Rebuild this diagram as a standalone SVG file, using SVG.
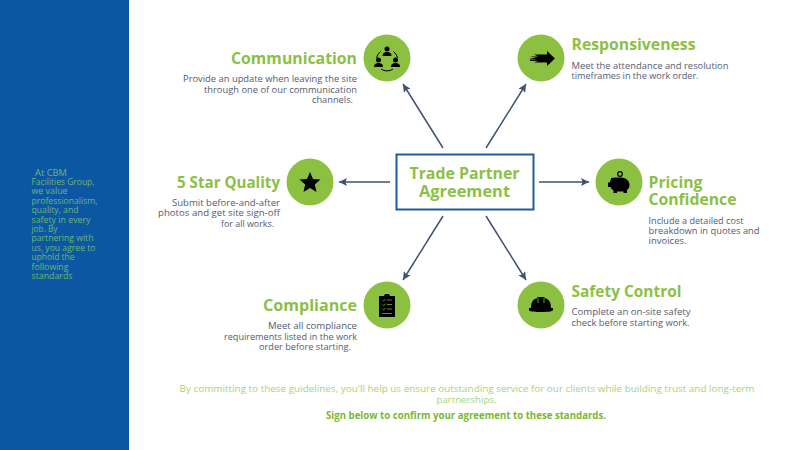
<svg xmlns="http://www.w3.org/2000/svg" width="800" height="450" viewBox="0 0 800 450">
<defs>
<marker id="ah" viewBox="0 0 10 10" refX="10" refY="5" markerWidth="10" markerHeight="8" markerUnits="userSpaceOnUse" orient="auto"><path d="M0 0L10 5L0 10L2 5Z" fill="#3f5270"/></marker>
</defs>
<style>
text{font-family:"Open Sans","Noto Sans","Liberation Sans",sans-serif}
.t{font-size:16px;font-weight:700;fill:#8cc045}
.d{font-size:8.800px;fill:#555b6e}
.s{font-size:8.300px;fill:#6fb870}
.e{text-anchor:end}
.m{text-anchor:middle}
.c{fill:#8cc040}
.i{fill:#000}
.l{fill:none;stroke:#000;stroke-width:1}
</style>
<rect x="0" y="0" width="800" height="450" fill="#fff"/>
<rect x="0" y="0" width="129" height="450" fill="#0b57a4"/>
<g id="intro">
<text class="s" x="35" y="175.500" textLength="32" lengthAdjust="spacingAndGlyphs">At CBM</text>
<text class="s" x="31.500" y="184.900" textLength="63" lengthAdjust="spacingAndGlyphs">Facilities Group,</text>
<text class="s" x="31.500" y="194.300" textLength="36" lengthAdjust="spacingAndGlyphs">we value</text>
<text class="s" x="31.500" y="203.700" textLength="66" lengthAdjust="spacingAndGlyphs">professionalism,</text>
<text class="s" x="31.500" y="213.100" textLength="47" lengthAdjust="spacingAndGlyphs">quality, and</text>
<text class="s" x="31.500" y="222.500" textLength="59" lengthAdjust="spacingAndGlyphs">safety in every</text>
<text class="s" x="31.500" y="231.900" textLength="26" lengthAdjust="spacingAndGlyphs">job. By</text>
<text class="s" x="31.500" y="241.300" textLength="62" lengthAdjust="spacingAndGlyphs">partnering with</text>
<text class="s" x="31.500" y="250.700" textLength="64" lengthAdjust="spacingAndGlyphs">us, you agree to</text>
<text class="s" x="31.500" y="260.100" textLength="43" lengthAdjust="spacingAndGlyphs">uphold the</text>
<text class="s" x="31.500" y="269.500" textLength="37" lengthAdjust="spacingAndGlyphs">following</text>
<text class="s" x="31.500" y="278.900" textLength="41" lengthAdjust="spacingAndGlyphs">standards</text>
</g>
<g id="connectors" fill="none" stroke="#3f5270" stroke-width="1.500">
<path d="M443 148L403 84" marker-end="url(#ah)"/>
<path d="M486 148L526 84" marker-end="url(#ah)"/>
<path d="M390 182H339" marker-end="url(#ah)"/>
<path d="M539 182H589" marker-end="url(#ah)"/>
<path d="M443 216L403 280" marker-end="url(#ah)"/>
<path d="M486 216L526 280" marker-end="url(#ah)"/>
</g>
<g id="center">
<rect x="396.500" y="154.500" width="137" height="55" fill="#fff" stroke="#1f5c99" stroke-width="2"/>
<text class="t m" x="464.500" y="178.500" textLength="110" lengthAdjust="spacingAndGlyphs">Trade Partner</text>
<text class="t m" x="464.500" y="196.500" textLength="91" lengthAdjust="spacingAndGlyphs">Agreement</text>
</g>
<g id="communication">
<circle class="c" cx="387" cy="58" r="23.500"/>
<circle class="i" cx="387" cy="49" r="2.500"/><path class="i" d="M382.500 56c0-3 1.500-4 4.500-4s4.500 1 4.500 4z"/>
<circle class="i" cx="378.500" cy="60" r="2.500"/><path class="i" d="M374 67c0-3 1.500-4 4.500-4s4.500 1 4.500 4z"/>
<circle class="i" cx="395.500" cy="60" r="2.500"/><path class="i" d="M391 67c0-3 1.500-4 4.500-4s4.500 1 4.500 4z"/>
<path class="l" d="M380.500 51.500A11 11 0 0 0 376.500 58M393.500 51.500A11 11 0 0 1 397.500 58M381 69A11 11 0 0 0 393 69"/>
<text class="t e" x="357" y="64" textLength="126" lengthAdjust="spacingAndGlyphs">Communication</text>
<text class="d e" x="357" y="82" textLength="174" lengthAdjust="spacingAndGlyphs">Provide an update when leaving the site</text>
<text class="d e" x="357" y="92.500" textLength="153" lengthAdjust="spacingAndGlyphs">through one of our communication</text>
<text class="d e" x="353" y="103" textLength="41" lengthAdjust="spacingAndGlyphs">channels.</text>
</g>
<g id="responsiveness">
<circle class="c" cx="541" cy="58" r="23.500"/>
<path class="i" d="M547 51L555 58.500L547 66V62.500H534L538 61H530V59.500H537L528.500 58H537L530 56.500H538L534 54.500H547Z"/>
<text class="t" x="571.500" y="50" textLength="124" lengthAdjust="spacingAndGlyphs">Responsiveness</text>
<text class="d" x="571.500" y="68.500" textLength="157" lengthAdjust="spacingAndGlyphs">Meet the attendance and resolution</text>
<text class="d" x="571.500" y="78.500" textLength="127" lengthAdjust="spacingAndGlyphs">timeframes in the work order.</text>
</g>
<g id="quality">
<circle class="c" cx="310" cy="182" r="23.500"/>
<path class="i" d="M310 172L313 179L320.500 179.600L314.800 184.500L316.500 192L310 188L303.500 192L305.200 184.500L299.500 179.600L307 179Z"/>
<text class="t e" x="280" y="188" textLength="103" lengthAdjust="spacingAndGlyphs">5 Star Quality</text>
<text class="d e" x="280" y="206" textLength="108" lengthAdjust="spacingAndGlyphs">Submit before-and-after</text>
<text class="d e" x="280" y="216" textLength="122" lengthAdjust="spacingAndGlyphs">photos and get site sign-off</text>
<text class="d e" x="274" y="226.500" textLength="53" lengthAdjust="spacingAndGlyphs">for all works.</text>
</g>
<g id="pricing">
<circle class="c" cx="619" cy="182" r="23.500"/>
<circle cx="620" cy="174" r="2.300" fill="none" stroke="#000" stroke-width="1.200"/>
<path class="i" d="M611 178C614 177 618 177.500 621 177.500C626 177.500 630 181 629.500 186C629.300 188 628 189 627 190V193H623.500V191.500H617V193H613.500V190.500C612 189.500 611 188.500 610.500 187H608V182.500H610C610 181 611 180 611 178Z"/>
<text class="t" x="648.500" y="188" textLength="54" lengthAdjust="spacingAndGlyphs">Pricing</text>
<text class="t" x="648.500" y="204.500" textLength="88" lengthAdjust="spacingAndGlyphs">Confidence</text>
<text class="d" x="648.500" y="223.500" textLength="95" lengthAdjust="spacingAndGlyphs">Include a detailed cost</text>
<text class="d" x="648.500" y="233.500" textLength="111" lengthAdjust="spacingAndGlyphs">breakdown in quotes and</text>
<text class="d" x="648.500" y="243.500" textLength="38" lengthAdjust="spacingAndGlyphs">invoices.</text>
</g>
<g id="compliance">
<circle class="c" cx="387" cy="305" r="23.500"/>
<path class="i" d="M379 296H384L385 294H389L390 296H395V317H379Z"/>
<path d="M382.500 300l1.200 1 1.800-2M382.500 304.500l1.200 1 1.800-2M382.500 309l1.200 1 1.800-2M387 300h5M387 304.500h5M387 309h5M382 313.500h10" fill="none" stroke="#8cc040" stroke-width=".7"/>
<text class="t e" x="357" y="311" textLength="94" lengthAdjust="spacingAndGlyphs">Compliance</text>
<text class="d e" x="357" y="329" textLength="89" lengthAdjust="spacingAndGlyphs">Meet all compliance</text>
<text class="d e" x="357" y="339.500" textLength="133" lengthAdjust="spacingAndGlyphs">requirements listed in the work</text>
<text class="d e" x="351" y="350" textLength="92" lengthAdjust="spacingAndGlyphs">order before starting.</text>
</g>
<g id="safety">
<circle class="c" cx="541" cy="305" r="23.500"/>
<path class="i" d="M531 308C531 302 533 299 537.500 298V297H544.500V298C549 299 551 302 551 308H553V310.500C550 312.500 532 312.500 529 310.500V308Z"/>
<path d="M538 298V303M544 298V303" stroke="#8cc040" stroke-width=".8"/>
<text class="t" x="571.500" y="297" textLength="110" lengthAdjust="spacingAndGlyphs">Safety Control</text>
<text class="d" x="571.500" y="315" textLength="119" lengthAdjust="spacingAndGlyphs">Complete an on-site safety</text>
<text class="d" x="571.500" y="325.500" textLength="118" lengthAdjust="spacingAndGlyphs">check before starting work.</text>
</g>
<g id="footer">
<text class="m" x="467" y="391.500" font-size="9.500" fill="#a9d27c" textLength="575" lengthAdjust="spacingAndGlyphs">By committing to these guidelines, you'll help us ensure outstanding service for our clients while building trust and long-term</text>
<text class="m" x="466.500" y="403" font-size="9.500" fill="#a9d27c" textLength="60" lengthAdjust="spacingAndGlyphs">partnerships.</text>
<text class="m" x="466" y="419" font-size="10" font-weight="700" fill="#7ab833" textLength="280" lengthAdjust="spacingAndGlyphs">Sign below to confirm your agreement to these standards.</text>
</g>
</svg>
